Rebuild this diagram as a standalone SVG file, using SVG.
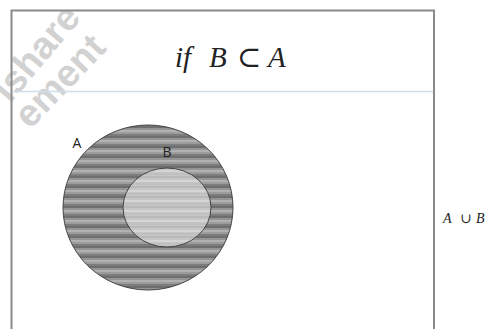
<svg xmlns="http://www.w3.org/2000/svg" width="489" height="329" viewBox="0 0 489 329">
<style>
.frame{fill:none;stroke:#8a8a8a;stroke-width:2}
.lbl{font-family:"Open Sans","DejaVu Sans",sans-serif;font-size:14px;fill:#222}
.math{font-family:"Liberation Serif","DejaVu Serif",serif;font-style:italic;fill:#222}
.wm{font-family:"Liberation Sans",Arial,sans-serif;font-weight:bold;font-size:38px;fill:#d2d2d2}
</style>
<defs>
<pattern id="darkStripes" patternUnits="userSpaceOnUse" x="0" y="126" width="10" height="10">
<rect width="10" height="10" fill="#8a8a8a"/>
<rect y="0" width="10" height="2" fill="#6e6e6e"/>
<rect y="2" width="10" height="2" fill="#959595"/>
<rect y="4" width="10" height="2" fill="#b2b2b2"/>
<rect y="6" width="10" height="2" fill="#9c9c9c"/>
<rect y="8" width="10" height="2" fill="#7c7c7c"/>
</pattern>
<pattern id="lightStripes" patternUnits="userSpaceOnUse" x="0" y="126" width="10" height="10">
<rect width="10" height="10" fill="#c6c6c6"/>
<rect y="0" width="10" height="2" fill="#b9b9b9"/>
<rect y="4" width="10" height="2" fill="#d5d5d5"/>
<rect y="7" width="10" height="2" fill="#c0c0c0"/>
</pattern>
</defs>
<rect width="489" height="329" fill="#ffffff"/>
<g id="watermark">
<text class="wm" transform="translate(10,104) rotate(-50)">ishare</text>
<text class="wm" transform="translate(30,130) rotate(-46)">ement</text>
</g>
<g id="frame">
<path class="frame" d="M11.5,329 V10.5 H434 V329"/>
<line x1="12.5" y1="91.5" x2="433" y2="91.5" stroke="#cfe0ec" stroke-width="1.5"/>
</g>
<g id="title">
<text class="math" y="67" font-size="29"><tspan x="175">if</tspan><tspan x="209">B</tspan><tspan x="237">⊂</tspan><tspan x="268">A</tspan></text>
</g>
<g id="setA">
<ellipse cx="148" cy="207.5" rx="85" ry="82.5" fill="url(#darkStripes)" stroke="#444" stroke-width="1"/>
<text class="lbl" x="77" y="148" text-anchor="middle">A</text>
</g>
<g id="setB">
<ellipse cx="167" cy="207.5" rx="44" ry="39.5" fill="url(#lightStripes)" stroke="#444" stroke-width="1"/>
<text class="lbl" x="167" y="157" text-anchor="middle">B</text>
</g>
<g id="union">
<text class="math" y="223" font-size="14"><tspan x="443">A</tspan><tspan x="460">∪</tspan><tspan x="476">B</tspan></text>
</g>
<g id="connectors"/>
</svg>
